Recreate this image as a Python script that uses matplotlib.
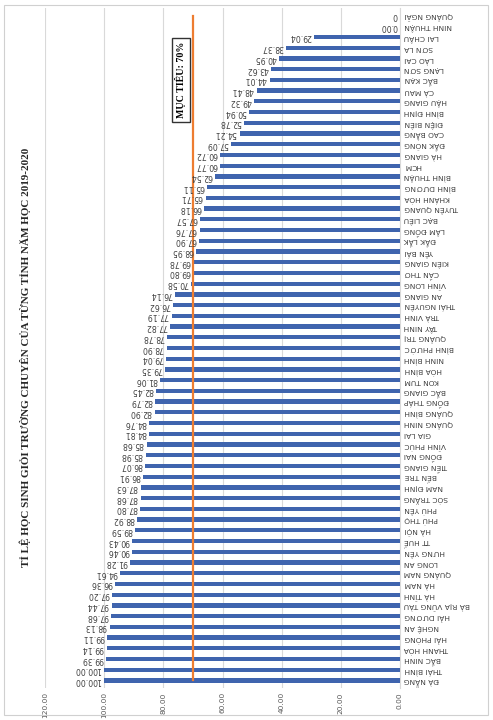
import matplotlib.pyplot as plt
from matplotlib.patches import Rectangle

# provinces from bottom (Đà Nẵng) to top (Quảng Ngãi)
provinces = [
    "ĐÀ NẴNG", "THÁI BÌNH", "BẮC NINH", "THANH HÓA", "HẢI PHÒNG", "NGHỆ AN",
    "HẢI DƯƠNG", "BÀ RỊA VŨNG TÀU", "HÀ TĨNH", "HÀ NAM", "QUẢNG NAM", "LONG AN",
    "HƯNG YÊN", "TT HUẾ", "HÀ NỘI", "PHÚ THỌ", "PHÚ YÊN", "SÓC TRĂNG",
    "NAM ĐỊNH", "BẾN TRE", "TIỀN GIANG", "ĐỒNG NAI", "VĨNH PHÚC", "GIA LAI",
    "QUẢNG NINH", "QUẢNG BÌNH", "ĐỒNG THÁP", "BẮC GIANG", "KON TUM", "HÒA BÌNH",
    "NINH BÌNH", "BÌNH PHƯỚC", "QUẢNG TRỊ", "TÂY NINH", "TRÀ VINH", "THÁI NGUYÊN",
    "AN GIANG", "VĨNH LONG", "CẦN THƠ", "KIÊN GIANG", "YÊN BÁI", "ĐẮK LẮK",
    "LÂM ĐỒNG", "BẠC LIÊU", "TUYÊN QUANG", "KHÁNH HÒA", "BÌNH DƯƠNG", "BÌNH THUẬN",
    "HCM", "HÀ GIANG", "ĐẮK NÔNG", "CAO BẰNG", "ĐIỆN BIÊN", "BÌNH ĐỊNH",
    "HẬU GIANG", "CÀ MAU", "BẮC KẠN", "LẠNG SƠN", "LÀO CAI", "SƠN LA",
    "LAI CHÂU", "NINH THUẬN", "QUẢNG NGÃI",
]
rates = [
    100.00, 100.00, 99.39, 99.14, 99.11, 98.13,
    97.68, 97.44, 97.20, 96.36, 94.61, 91.28,
    90.46, 90.43, 89.59, 88.92, 87.80, 87.68,
    87.63, 86.91, 86.07, 85.98, 85.68, 84.81,
    84.76, 82.90, 82.79, 82.45, 81.06, 79.35,
    79.04, 78.90, 78.78, 77.82, 77.19, 76.62,
    76.14, 70.58, 69.80, 69.78, 68.95, 67.90,
    67.76, 67.57, 66.18, 65.71, 65.11, 62.54,
    60.77, 60.72, 57.09, 54.21, 52.78, 50.94,
    49.32, 48.41, 44.01, 43.62, 40.95, 38.37,
    29.04, 0.00, 0,
]
target = 70
x_ticks = [0, 20, 40, 60, 80, 100, 120]

title = "TỈ LỆ HỌC SINH GIỎI TRƯỜNG CHUYÊN CỦA TỪNG TỈNH NĂM HỌC 2019-2020"

fig = plt.figure(figsize=(4.93, 7.2), dpi=100)
ax = fig.add_axes([45 / 493, 32 / 720, 355 / 493, 680 / 720])

pos = list(range(len(provinces)))
ax.barh(pos, rates, height=0.4, color="#3F64AE", zorder=3)
ax.plot([target] * len(pos), pos, color="#ED7D31", lw=1.6, zorder=4)

for i, v in enumerate(rates):
    lab = "0" if i == len(rates) - 1 else f"{v:.2f}"
    ax.annotate(lab, xy=(v, i), xytext=(-2, 0), textcoords="offset points",
                ha="right", va="center", rotation=180, fontsize=5.6,
                color="#404040", zorder=5)

ax.set_xlim(120, 0)
ax.set_ylim(-0.7, len(pos) - 0.3)
ax.set_xticks(x_ticks, [f"{t:.2f}" for t in x_ticks], rotation=90,
              fontsize=5.3, color="#595959")
ax.yaxis.tick_right()
ax.set_yticks(pos, provinces, rotation=180, fontsize=5.4, color="#404040")
ax.tick_params(length=0, pad=3)
ax.grid(axis="x", color="#D9D9D9", lw=0.8, zorder=0)
for s in ["top", "bottom", "left"]:
    ax.spines[s].set_visible(False)
ax.spines["right"].set_color("#D9D9D9")

ax.text(0.383, 0.894, "MỤC TIÊU: 70%", transform=ax.transAxes, rotation=90,
        ha="center", va="center", fontsize=7.2, fontweight="bold",
        family="Liberation Serif", zorder=6,
        bbox=dict(boxstyle="square,pad=0.35", fc="white", ec="#333333", lw=1))

fig.text(25 / 493, 1 - 357 / 720, title, rotation=90, ha="center", va="center",
         fontsize=8.0, fontweight="bold", family="Liberation Serif", color="#262626")

fig.patches.append(Rectangle((4 / 493, 5 / 720), 484 / 493, 710 / 720,
                             transform=fig.transFigure, fill=False,
                             ec="#D0D0D0", lw=0.8))

fig.savefig("out.png", dpi=100)
